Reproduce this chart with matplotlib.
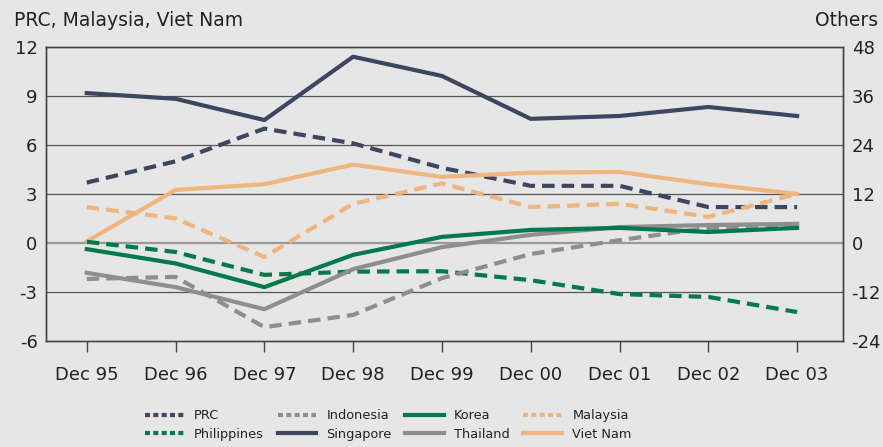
import numpy as np
import matplotlib
matplotlib.use('Agg')
import matplotlib.pyplot as plt
from matplotlib.lines import Line2D

plt.rcParams['axes.unicode_minus'] = False

BG = '#e6e6e6'
NAVY = '#3d4661'
GREEN = '#007a4b'
GREY = '#8e8e8e'
ORANGE = '#efb57e'

periods = ['Dec 95', 'Dec 96', 'Dec 97', 'Dec 98', 'Dec 99',
           'Dec 00', 'Dec 01', 'Dec 02', 'Dec 03']

# left axis: PRC, Malaysia, Viet Nam
prc = [3.7, 5.0, 7.0, 6.1, 4.6, 3.5, 3.5, 2.2, 2.2]
malaysia = [2.2, 1.5, -0.85, 2.4, 3.65, 2.2, 2.4, 1.6, 3.0]
viet_nam = [0.1, 3.25, 3.6, 4.8, 4.05, 4.3, 4.35, 3.6, 3.0]

# right axis: others
singapore = [36.7, 35.3, 30.1, 45.6, 40.9, 30.4, 31.1, 33.3, 31.1]
korea = [-1.5, -5.0, -10.8, -2.9, 1.5, 3.2, 3.7, 2.7, 3.7]
thailand = [-7.3, -10.8, -16.2, -6.4, -1.0, 2.0, 3.9, 4.4, 4.7]
indonesia = [-8.8, -8.3, -20.6, -17.6, -8.6, -2.7, 0.7, 3.7, 4.0]
philippines = [0.3, -2.2, -7.8, -7.0, -6.9, -9.1, -12.5, -13.2, -16.9]

x = np.arange(len(periods))
LW = 3.0
DASH = (3.0, 1.7)

fig = plt.figure(figsize=(8.83, 4.47), dpi=100, facecolor=BG)
ax = fig.add_axes([0.052, 0.237, 0.903, 0.658], facecolor=BG)
ax2 = ax.twinx()
ax2.patch.set_visible(False)

ax.set_xlim(-0.46, 8.52)
ax.set_ylim(-6, 12)
ax2.set_ylim(-24, 48)
ax.set_yticks([-6, -3, 0, 3, 6, 9, 12])
ax2.set_yticks([-24, -12, 0, 12, 24, 36, 48])

for v in [-3, 3, 6, 9]:
    ax.axhline(v, color='#555555', lw=0.9, zorder=0)
ax.axhline(0, color='#999999', lw=1.6, zorder=0)

ax.plot(x, prc, color=NAVY, lw=LW, dashes=DASH)
ax.plot(x, malaysia, color=ORANGE, lw=LW, dashes=DASH)
ax.plot(x, viet_nam, color=ORANGE, lw=LW)
ax2.plot(x, philippines, color=GREEN, lw=LW, dashes=DASH)
ax2.plot(x, indonesia, color=GREY, lw=LW, dashes=DASH)
ax2.plot(x, thailand, color=GREY, lw=LW)
ax2.plot(x, korea, color=GREEN, lw=LW)
ax2.plot(x, singapore, color=NAVY, lw=LW)

for a in (ax, ax2):
    for s in a.spines.values():
        s.set_color('#444444')
        s.set_linewidth(1.0)
    a.tick_params(axis='y', length=0, labelsize=13, colors='#222222')
ax.tick_params(axis='y', pad=6)
ax2.tick_params(axis='y', pad=6)
ax.set_xticks(x)
ax.set_xticklabels(periods)
ax.tick_params(axis='x', direction='out', length=8, width=1, color='#444444',
               labelsize=13, labelcolor='#222222', pad=10)

fig.text(0.016, 0.955, 'PRC, Malaysia, Viet Nam', fontsize=13.5,
         color='#222222', ha='left', va='center')
fig.text(0.995, 0.955, 'Others', fontsize=13.5, color='#222222',
         ha='right', va='center')

# legend keys: shorter dashes like the original
leg_dash = (1.2, 0.8)
legend_items = [
    ('PRC', NAVY, leg_dash), ('Philippines', GREEN, leg_dash),
    ('Indonesia', GREY, leg_dash), ('Singapore', NAVY, None),
    ('Korea', GREEN, None), ('Thailand', GREY, None),
    ('Malaysia', ORANGE, leg_dash), ('Viet Nam', ORANGE, None),
]
proxies = []
for name, col, d in legend_items:
    ln = Line2D([], [], color=col, lw=LW)
    if d is not None:
        ln.set_dashes(d)
    proxies.append(ln)
fig.legend(proxies, [n for n, _, _ in legend_items], ncol=4,
           loc='center', bbox_to_anchor=(0.44, 0.049),
           frameon=False, fontsize=9.3, handlelength=3.0,
           handletextpad=0.78, columnspacing=1.05, labelspacing=0.45,
           borderpad=0.2, labelcolor='#222222')

fig.savefig('out.png', dpi=100, facecolor=BG)
